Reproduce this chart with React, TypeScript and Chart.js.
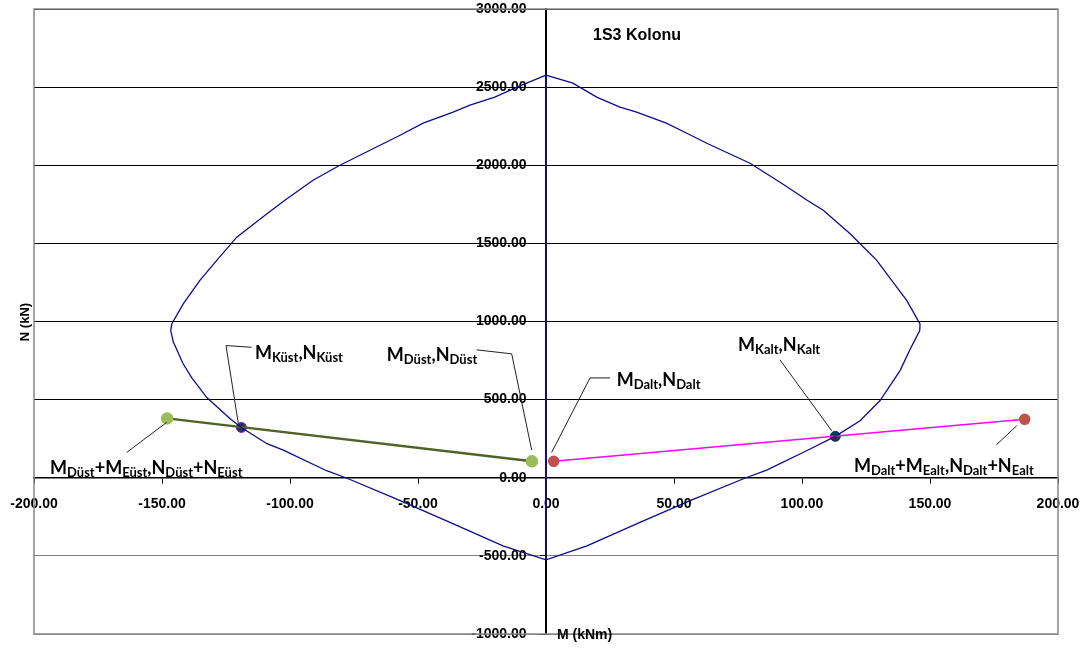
import React, { useEffect, useRef } from "react";
import { Chart, registerables } from "chart.js";
Chart.register(...registerables);

// ---- Data ----
const chartTitle = "1S3 Kolonu";
const xTitle = "M (kNm)";
const yTitle = "N (kN)";

// Interaction diagram (M, N), going around the curve
const curveM = [0, -11.3, -20, -29.7, -36.3, -48, -57, -80.5, -91, -102, -109, -120.8, -128.6, -135.2, -141.7, -146.2, -146.6, -145.6, -141.8, -138.4, -132.5, -123.4, -119, -109, -102.6, -85.7, -78.2, -58.3, -37.5, -16.8, 0, 16, 36.7, 56.3, 78.1, 86.2, 101.8, 113, 122.7, 130.5, 138.3, 142, 146, 146.1, 140.9, 137, 129.2, 122.7, 118.8, 108.3, 102, 95.3, 91.4, 79.7, 62.8, 55, 47, 35.4, 28.9, 19.8, 10.5, 0];
const curveN = [2577, 2500, 2436, 2385, 2340, 2269, 2192, 2000, 1904, 1776, 1690, 1540, 1391, 1263, 1113, 985, 942, 870, 731, 641, 513, 378, 322, 218, 177, 45, 0, -137, -286, -436, -525, -436, -286, -147, 0, 49, 173, 265, 365, 494, 686, 814, 942, 985, 1135, 1220, 1391, 1498, 1562, 1712, 1776, 1850, 1891, 2013, 2141, 2205, 2269, 2340, 2372, 2436, 2525, 2577];

const axisLineM = [0, 0];
const axisLineN = [2577, -525];

const ustM = [-148, -5.5];
const ustN = [380, 105];
const altM = [3, 187];
const altN = [105, 374];
const kustM = [-119];
const kustN = [322];
const kaltM = [113];
const kaltN = [265];

const xMin = -200, xMax = 200, xStep = 50;
const yMin = -1000, yMax = 3000, yStep = 500;

type Part = [string, number];
const annotations: { parts: Part[]; at: [number, number]; leader: [number, number][] }[] = [
  { parts: [["M", 0], ["Küst", 1], [",", 0], ["N", 0], ["Küst", 1]], at: [-113.7, 763], leader: [[-115, 835], [-125, 846], [-120.2, 348]] },
  { parts: [["M", 0], ["Düst", 1], ["+", 0], ["M", 0], ["Eüst", 1], [",", 0], ["N", 0], ["Düst", 1], ["+", 0], ["N", 0], ["Eüst", 1]], at: [-193.75, 25.6], leader: [[-163.8, 162], [-148.2, 354]] },
  { parts: [["M", 0], ["Düst", 1], [",", 0], ["N", 0], ["Düst", 1]], at: [-62.2, 750], leader: [[-27.1, 818.6], [-13.4, 793], [-5.6, 177.6]] },
  { parts: [["M", 0], ["Dalt", 1], [",", 0], ["N", 0], ["Dalt", 1]], at: [27.6, 589.7], leader: [[25, 639], [17.2, 639], [2.2, 162]] },
  { parts: [["M", 0], ["Kalt", 1], [",", 0], ["N", 0], ["Kalt", 1]], at: [75, 814], leader: [[91.4, 754.5], [111.6, 301]] },
  { parts: [["M", 0], ["Dalt", 1], ["+", 0], ["M", 0], ["Ealt", 1], [",", 0], ["N", 0], ["Dalt", 1], ["+", 0], ["N", 0], ["Ealt", 1]], at: [120.3, 34], leader: [[176, 211.5], [183.9, 333]] },
];

const toXY = (ms: number[], ns: number[]) => ms.map((m, i) => ({ x: m, y: ns[i] }));

const overlayPlugin = {
  id: "overlay",
  beforeDraw(chart: any) {
    const { ctx } = chart;
    ctx.save();
    ctx.fillStyle = "#fff";
    ctx.fillRect(0, 0, chart.width, chart.height);
    ctx.restore();
  },
  afterDraw(chart: any) {
    const { ctx, chartArea: a, scales } = chart;
    const sx = scales.x, sy = scales.y;
    ctx.save();
    // frame
    ctx.strokeStyle = "#888";
    ctx.lineWidth = 1.5;
    ctx.strokeRect(a.left, a.top, a.right - a.left, a.bottom - a.top);
    // title
    ctx.fillStyle = "#000";
    ctx.font = "bold 16px 'Liberation Sans', Arial, sans-serif";
    ctx.textBaseline = "alphabetic";
    ctx.textAlign = "left";
    ctx.fillText(chartTitle, 593, 40);
    // x title
    ctx.font = "bold 14px 'Liberation Sans', Arial, sans-serif";
    ctx.fillText(xTitle, sx.getPixelForValue(0) + 11, a.bottom + 5);
    // y title
    ctx.save();
    ctx.translate(29, 322);
    ctx.rotate(-Math.PI / 2);
    ctx.textAlign = "center";
    ctx.font = "bold 13px 'Liberation Sans', Arial, sans-serif";
    ctx.fillText(yTitle, 0, 0);
    ctx.restore();
    // annotations
    const mainFont = "bold 18px Lato, 'Open Sans', sans-serif";
    const subFont = "bold 13px Lato, 'Open Sans', sans-serif";
    for (const an of annotations) {
      ctx.strokeStyle = "#222";
      ctx.lineWidth = 1;
      ctx.beginPath();
      an.leader.forEach((p, i) => {
        const px = sx.getPixelForValue(p[0]);
        const py = sy.getPixelForValue(p[1]);
        if (i === 0) ctx.moveTo(px, py);
        else ctx.lineTo(px, py);
      });
      ctx.stroke();
      let x = sx.getPixelForValue(an.at[0]);
      const y = sy.getPixelForValue(an.at[1]);
      ctx.fillStyle = "#000";
      ctx.textAlign = "left";
      for (const [t, sub] of an.parts) {
        ctx.font = sub ? subFont : mainFont;
        ctx.fillText(t, x, sub ? y + 3 : y);
        x += ctx.measureText(t).width;
      }
    }
    ctx.restore();
  },
};

export default function App() {
  const ref = useRef<HTMLCanvasElement>(null);
  useEffect(() => {
    if (!ref.current) return;
    const chart = new Chart(ref.current, {
      type: "scatter",
      data: {
        datasets: [
          { data: toXY(curveM, curveN), showLine: true, borderColor: "#0c0c8c", borderWidth: 1.3, pointRadius: 0, tension: 0 },
          { data: toXY(axisLineM, axisLineN), showLine: true, borderColor: "#0c0c8c", borderWidth: 2, pointRadius: 0 },
          { data: toXY(ustM, ustN), showLine: true, borderColor: "#4F6228", borderWidth: 2.5, pointRadius: 5, pointBackgroundColor: "#9BBB59", pointBorderColor: "#9BBB59" },
          { data: toXY(altM, altN), showLine: true, borderColor: "#FF00FF", borderWidth: 1.5, pointRadius: 5, pointBackgroundColor: "#C0504D", pointBorderColor: "#C0504D" },
          { data: toXY(kustM, kustN), showLine: false, pointRadius: 5, pointBackgroundColor: "#17375E", pointBorderColor: "#C000C0", pointBorderWidth: 1 },
          { data: toXY(kaltM, kaltN), showLine: false, pointRadius: 5, pointBackgroundColor: "#17375E", pointBorderColor: "#17375E" },
        ],
      },
      options: {
        responsive: false,
        animation: false,
        layout: { padding: { left: 34, right: 31, top: 9, bottom: 14 } },
        plugins: { legend: { display: false }, tooltip: { enabled: false }, title: { display: false } },
        scales: {
          x: {
            type: "linear",
            position: { y: 0 } as any,
            min: xMin, max: xMax,
            afterFit: (s: any) => { s.height = 0; s.paddingLeft = 0; s.paddingRight = 0; s.paddingTop = 0; s.paddingBottom = 0; },
            ticks: { stepSize: xStep, color: "#000", padding: 13, maxRotation: 0, autoSkip: false, font: { family: "'Liberation Sans', Arial, sans-serif", size: 14, weight: "bold" }, callback: (v: any) => Number(v).toFixed(2) },
            grid: { drawOnChartArea: false, drawTicks: true, tickLength: 5, tickColor: "#000", tickWidth: 1 },
            border: { display: true, color: "#000", width: 1.5 },
          },
          y: {
            type: "linear",
            position: { x: 0 } as any,
            min: yMin, max: yMax,
            afterFit: (s: any) => { s.width = 0; s.paddingLeft = 0; s.paddingRight = 0; s.paddingTop = 0; s.paddingBottom = 0; },
            ticks: { stepSize: yStep, color: "#000", padding: 12, font: { family: "'Liberation Sans', Arial, sans-serif", size: 14, weight: "bold" }, callback: (v: any) => Number(v).toFixed(2) + "     " },
            grid: { drawOnChartArea: true, color: (c: any) => (c.tick && c.tick.value < 0 ? "#808080" : "#000"), lineWidth: 1, drawTicks: true, tickLength: 5, tickColor: "#000", tickWidth: 1 },
            border: { display: true, color: "#000", width: 2 },
          },
        },
      },
      plugins: [overlayPlugin],
    });
    return () => chart.destroy();
  }, []);
  return (
    <div style={{ position: "absolute", left: 0, top: 0, width: 1089, height: 648 }}>
      <canvas ref={ref} width={1089} height={648} style={{ display: "block" }} />
    </div>
  );
}
